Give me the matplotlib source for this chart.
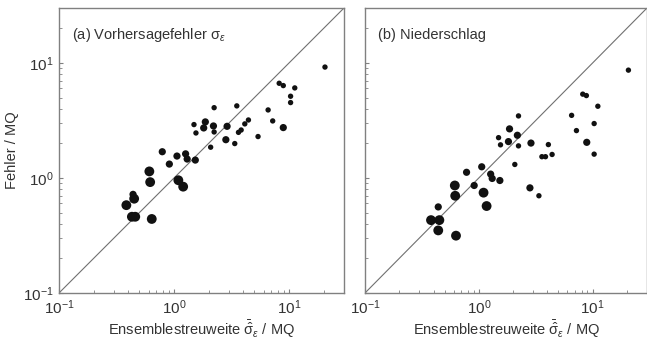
import matplotlib
matplotlib.use("Agg")
import matplotlib.pyplot as plt

plt.rcParams['font.family'] = ['Liberation Sans', 'DejaVu Sans']
plt.rcParams['mathtext.fontset'] = 'custom'
plt.rcParams['mathtext.rm'] = 'Liberation Sans'
plt.rcParams['mathtext.it'] = 'Liberation Sans:italic'
plt.rcParams['mathtext.sf'] = 'Liberation Sans'

# (a) Vorhersagefehler: ensemble spread vs. error, marker class S/M/L
spread_a = [20.5, 8.2, 8.9, 11.2, 10.3, 10.3, 6.57, 7.2, 8.9, 5.37,
            4.43, 4.12, 3.83, 3.63, 3.51, 3.37, 2.89, 2.82, 2.23, 2.20,
            2.23, 2.08, 1.87, 1.81, 1.49, 1.55, 1.53, 1.30, 1.26, 1.06,
            0.79, 0.91, 1.09, 1.20, 0.61, 0.62, 0.44, 0.45, 0.385, 0.43,
            0.46, 0.64]
error_a = [9.2, 6.65, 6.35, 6.06, 5.13, 4.52, 3.9, 3.13, 2.74, 2.29,
           3.19, 2.95, 2.61, 2.49, 4.23, 1.99, 2.81, 2.15, 4.08, 2.83,
           2.51, 1.85, 3.07, 2.72, 2.91, 2.46, 1.43, 1.46, 1.62, 1.55,
           1.69, 1.32, 0.955, 0.84, 1.14, 0.92, 0.72, 0.66, 0.58, 0.46,
           0.46, 0.44]
cls_a = ['S', 'S', 'S', 'S', 'S', 'S', 'S', 'S', 'M', 'S',
         'S', 'S', 'S', 'S', 'S', 'S', 'M', 'M', 'S', 'M',
         'S', 'S', 'M', 'M', 'S', 'S', 'M', 'M', 'M', 'M',
         'M', 'M', 'L', 'L', 'L', 'L', 'M', 'L', 'L', 'L',
         'L', 'L']

# (b) Niederschlag
spread_b = [20.6, 8.18, 8.8, 11.1, 6.53, 10.3, 7.2, 8.87, 10.3, 4.08,
            4.4, 3.58, 3.85, 2.87, 3.37, 2.81, 2.23, 2.18, 2.23, 2.07,
            1.86, 1.82, 1.49, 1.55, 1.53, 1.27, 1.31, 1.06, 0.78, 0.91,
            1.10, 1.17, 0.615, 0.62, 0.44, 0.38, 0.45, 0.44, 0.63]
error_b = [8.65, 5.35, 5.2, 4.2, 3.5, 2.97, 2.58, 2.04, 1.61, 1.95,
           1.6, 1.53, 1.53, 2.01, 0.70, 0.82, 3.46, 2.35, 1.9, 1.31,
           2.67, 2.07, 2.24, 1.94, 0.95, 1.08, 0.99, 1.25, 1.12, 0.86,
           0.745, 0.57, 0.86, 0.70, 0.56, 0.43, 0.43, 0.35, 0.315]
cls_b = ['S', 'S', 'S', 'S', 'S', 'S', 'S', 'M', 'S', 'S',
         'S', 'S', 'S', 'M', 'S', 'M', 'S', 'M', 'S', 'S',
         'M', 'M', 'S', 'S', 'M', 'M', 'M', 'M', 'M', 'M',
         'L', 'L', 'L', 'L', 'M', 'L', 'L', 'L', 'L']

size_of = {'S': 15, 'M': 27, 'L': 50}
lim = (0.1, 30)
grey = '#808080'
txt = '#333333'


def panel(ax, x, y, cls, title, ylabels=True):
    ax.set_xscale('log')
    ax.set_yscale('log')
    ax.set_xlim(lim)
    ax.set_ylim(lim)
    ax.plot(lim, lim, color='#707070', lw=0.8, zorder=1)
    ax.scatter(x, y, s=[size_of[c] for c in cls], color='#111111',
               linewidths=0, zorder=2)
    for sp in ax.spines.values():
        sp.set_color(grey)
        sp.set_linewidth(1.0)
    ax.tick_params(which='both', direction='in', color=grey,
                   labelsize=11, labelcolor=txt, pad=4)
    ax.tick_params(which='major', length=3)
    ax.tick_params(which='minor', length=2)
    ax.set_xticks([0.1, 1, 10])
    ax.set_yticks([0.1, 1, 10])
    if not ylabels:
        ax.tick_params(axis='y', labelleft=False)
    ax.set_xlabel(r'Ensemblestreuweite $\bar{\hat{\mathrm{\sigma}}}_{\varepsilon}$ / MQ',
                  fontsize=10.5, color=txt, labelpad=1)
    ax.text(0.045, 0.905, title, transform=ax.transAxes, fontsize=10.5,
            color=txt, va='center', ha='left')


fig = plt.figure(figsize=(6.47, 3.40), dpi=100)
W, H = 647.0, 340.0
ax1 = fig.add_axes([59 / W, 47 / H, 285 / W, 285 / H])
ax2 = fig.add_axes([365 / W, 47 / H, 282 / W, 285 / H])

panel(ax1, spread_a, error_a, cls_a,
      r'(a) Vorhersagefehler $\mathrm{\sigma}_{\varepsilon}$')
panel(ax2, spread_b, error_b, cls_b, '(b) Niederschlag', ylabels=False)
ax1.set_ylabel('Fehler / MQ', fontsize=10.5, color=txt, labelpad=3)

fig.savefig('out.png', dpi=100)
